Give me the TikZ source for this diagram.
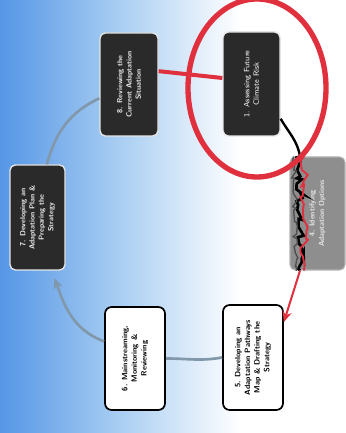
\documentclass[tikz,border=0pt]{standalone}
\usepackage{graphicx}
\usetikzlibrary{arrows.meta,decorations.pathmorphing}
\definecolor{boxdark}{HTML}{2A2A2A}
\definecolor{bgblue}{HTML}{5596E6}
\definecolor{bgmid}{HTML}{A9CEF2}
\definecolor{redmark}{HTML}{E0303E}
\definecolor{linkgrey}{HTML}{8197AA}
\definecolor{boxgrey}{HTML}{8E8E8E}
\newcommand{\vtext}[2]{\rotatebox{90}{\parbox{#1}{\centering #2}}}
\begin{document}
\begin{tikzpicture}[x=0.75pt,y=0.75pt,
  darkbox/.style={draw=white!80!gray, line width=1pt, fill=boxdark, rounded corners=4pt,
    text=white, font=\sffamily\fontsize{5.8}{7.2}\selectfont, inner sep=0pt},
  darkboxb/.style={darkbox, font=\sffamily\bfseries\fontsize{5.6}{7}\selectfont, text=white!85!gray},
  lightbox/.style={draw=black, line width=1.3pt, fill=white, rounded corners=5pt,
    text=black, font=\sffamily\bfseries\fontsize{5.8}{7.2}\selectfont, inner sep=0pt},
  greybox/.style={draw=gray!60, line width=0.8pt, fill=boxgrey, rounded corners=4pt,
    text=white!80!gray, font=\sffamily\bfseries\fontsize{5.6}{7}\selectfont, inner sep=0pt},
  redlink/.style={draw=redmark, line width=3pt},
  greylink/.style={draw=linkgrey, line width=2pt},
  tip/.style={-{Stealth[length=8pt,width=7pt]}}]
% background
\useasboundingbox (0,0) rectangle (346,433);
\begin{scope}
\clip (0,0) rectangle (346,433);
\shade[left color=bgblue, right color=white, middle color=bgmid] (0,0) rectangle (240,433);
\fill[white] (239.5,0) rectangle (346,433);

% nodes
\node[darkbox, minimum width=42.75pt, minimum height=78pt] (A) at (251.5,349)
  {\vtext{72pt}{1. Assessing Future\\ Climate Risk}};
\node[greybox, minimum width=41.25pt, minimum height=84.75pt] (B) at (317.5,219.5)
  {\vtext{78pt}{4. Identifying\\ Adaptation Options}};
\node[lightbox, minimum width=45pt, minimum height=78.75pt] (C) at (253,75.5)
  {\vtext{74pt}{5. Developing an\\ Adaptation Pathways\\ Map \& Drafting the\\ Strategy}};
\node[lightbox, minimum width=45pt, minimum height=77.25pt] (D) at (135,74.5)
  {\vtext{72pt}{6. Mainstreaming,\\ Monitoring \&\\ Reviewing}};
\node[darkboxb, minimum width=41.25pt, minimum height=78.75pt] (E) at (37.5,215.5)
  {\vtext{74pt}{7. Developing an\\ Adaptation Plan \&\\ Preparing the\\ Strategy}};
\node[darkboxb, minimum width=43.5pt, minimum height=77.25pt] (F) at (129,348.5)
  {\vtext{72pt}{8. Reviewing the\\ Current Adaptation\\ Situation}};

% connectors
\draw[redlink] ([yshift=10pt]F.east) -- ([yshift=4.5pt]A.west);
\draw[black, line width=1.8pt] (A.-50) to[out=-60, in=100] (B.107);
\draw[black, line width=2pt, decorate, decoration={random steps, segment length=3pt, amplitude=3pt}]
  (B.107) -- (B.253);
\draw[redmark, line width=1.4pt, decorate, decoration={random steps, segment length=4pt, amplitude=3pt}]
  ([xshift=3pt]B.107) -- ([xshift=3pt]B.253);
\draw[black!70, line width=1pt, decorate, decoration={random steps, segment length=3pt, amplitude=2pt}]
  ([xshift=-5pt]B.107) -- ([xshift=-3pt]B.253);
\draw[redmark, line width=1.5pt, tip] (B.253) -- (C.49);
\draw[greylink] (C.west) to[out=190, in=0] (D.east);
\draw[greylink, tip, shorten >=6pt] (D.151) to[out=160, in=-70] (E.285);
\draw[greylink] (E.80) to[out=75, in=205] (F.205);

% red circle
\draw[redmark, line width=4pt] (257,345) ellipse [x radius=69, y radius=89];
\end{scope}
\end{tikzpicture}
\end{document}
